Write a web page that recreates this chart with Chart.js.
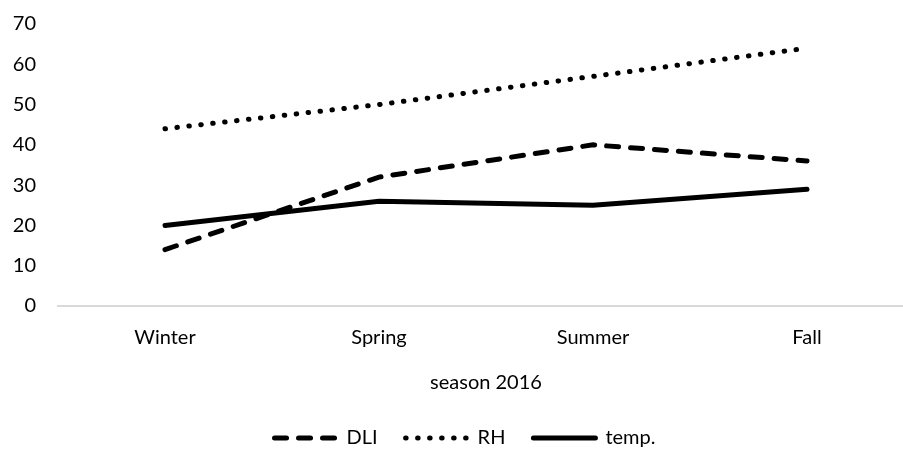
<!DOCTYPE html>
<html>
<head>
<meta charset="utf-8">
<script src="https://cdn.jsdelivr.net/npm/chart.js@4.4.1/dist/chart.umd.min.js"></script>
<style>
  html, body { margin: 0; padding: 0; background: #fff; overflow: hidden; }
  #wrap { position: relative; width: 914px; height: 458px; }
</style>
</head>
<body>
<div id="wrap"><canvas id="season_chart"></canvas></div>
<script>
var seasons = ['Winter', 'Spring', 'Summer', 'Fall'];
var dli = [14, 32, 40, 36];
var rh = [44, 50, 57, 64];
var temp = [20, 26, 25, 29];
var yTicks = [0, 10, 20, 30, 40, 50, 60, 70];

// the legend box spans the whole canvas, nudge it to sit where the original does
var shiftLegend = {
    id: 'shiftLegend',
    afterLayout: function(chart){
        chart.legend.left += 8;
        chart.legend.right += 8;
    }
};

function init(){
    Chart.defaults.font.family = 'Lato, "Open Sans", sans-serif';
    Chart.defaults.font.size = 20;
    Chart.defaults.color = '#000';

    var ctx = document.getElementById('season_chart').getContext('2d');
    var chart = new Chart(ctx, {
        type: 'line',
        data: {
            labels: seasons,
            datasets: [{
                label: 'DLI',
                data: dli,
                borderColor: '#000',
                borderWidth: 5,
                borderDash: [12, 12],
                borderCapStyle: 'round',
                pointRadius: 0,
                tension: 0
            }, {
                label: 'RH',
                data: rh,
                borderColor: '#000',
                borderWidth: 5,
                borderDash: [0.5, 11.5],
                borderCapStyle: 'round',
                pointRadius: 0,
                tension: 0
            }, {
                label: 'temp.',
                data: temp,
                borderColor: '#000',
                borderWidth: 5,
                borderCapStyle: 'round',
                pointRadius: 0,
                tension: 0
            }]
        },
        options: {
            responsive: true,
            maintainAspectRatio: false,
            animation: false,
            layout: {
                padding: { left: 0, right: 0, top: 24, bottom: 0 }
            },
            plugins: {
                tooltip: { enabled: false },
                legend: {
                    position: 'bottom',
                    labels: {
                        usePointStyle: true,
                        pointStyleWidth: 62,
                        padding: 28,
                        color: '#000',
                        generateLabels: function(chart){
                            var items = Chart.defaults.plugins.legend.labels.generateLabels(chart);
                            items.forEach(function(item){
                                var ds = chart.data.datasets[item.datasetIndex];
                                item.pointStyle = 'line';
                                item.lineDash = ds.borderDash || [];
                                item.lineCap = 'round';
                                item.lineWidth = 5;
                                item.strokeStyle = '#000';
                            });
                            return items;
                        }
                    }
                }
            },
            scales: {
                x: {
                    offset: true,
                    grid: { display: false, drawTicks: false },
                    border: { display: true, color: '#d9d9d9', width: 2 },
                    ticks: { padding: 20 },
                    title: {
                        display: true,
                        text: 'season 2016',
                        padding: { top: 1, bottom: 5 }
                    }
                },
                y: {
                    min: 0,
                    max: 70,
                    afterBuildTicks: function(scale){
                        scale.ticks = yTicks.map(function(v){ return { value: v }; });
                    },
                    afterFit: function(scale){
                        scale.width = 58;
                        scale.paddingTop = 0;
                    },
                    grid: { display: false, drawTicks: false },
                    border: { display: false },
                    ticks: { padding: 22 }
                }
            }
        },
        plugins: [shiftLegend]
    });
}

window.onload = init;
</script>
</body>
</html>
